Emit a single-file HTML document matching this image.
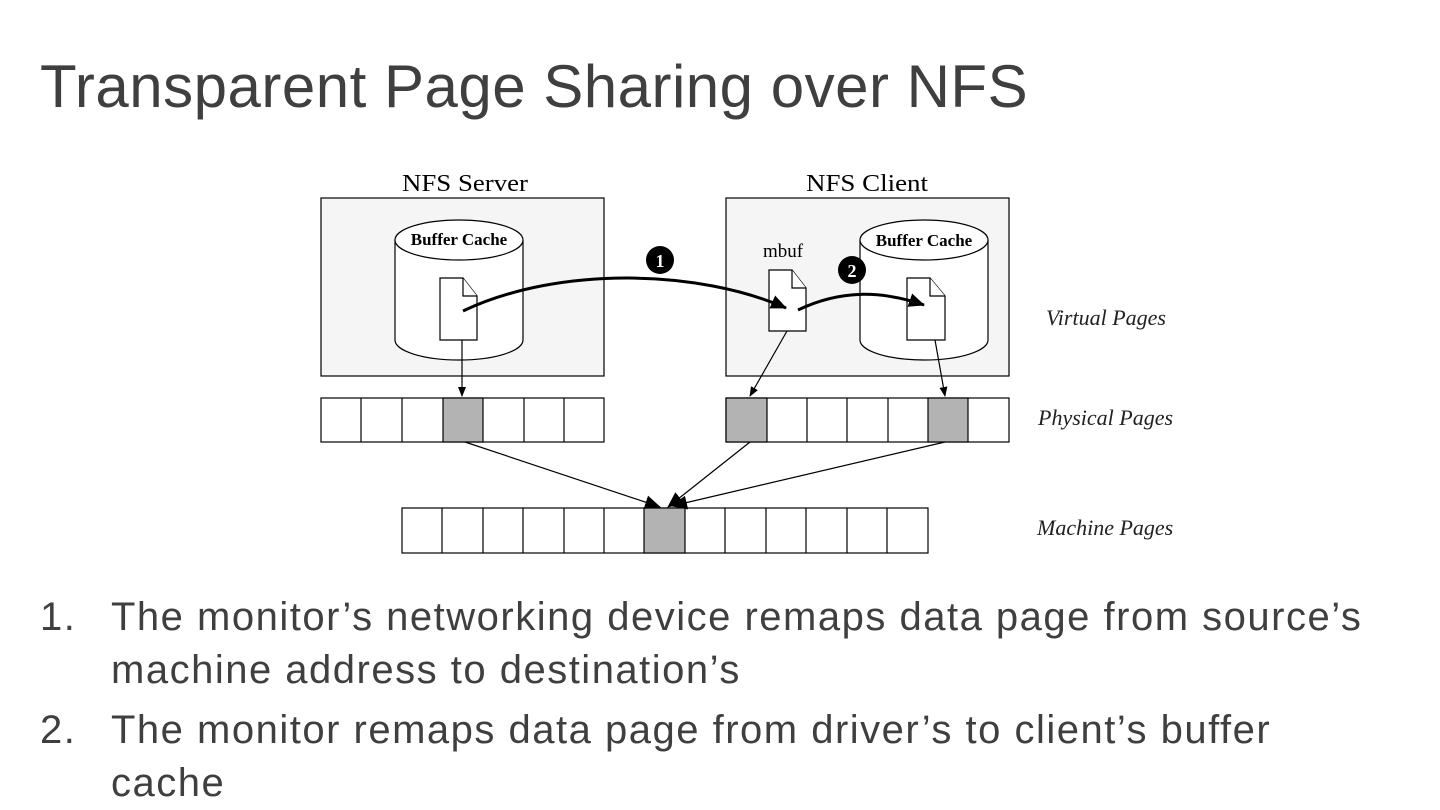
<!DOCTYPE html>
<html><head><meta charset="utf-8"><style>
body{margin:0;width:1440px;height:810px;background:#fff;overflow:hidden;font-family:"Liberation Sans",sans-serif;color:#3f3f3f;position:relative}
.t{position:absolute;left:40px;top:52px;font-size:60px;white-space:nowrap;letter-spacing:0.5px}
.l{position:absolute;font-size:40px;white-space:nowrap;letter-spacing:1.5px}
</style></head><body>
<div class="t">Transparent Page Sharing over NFS</div>
<svg style="position:absolute;left:0;top:0" width="1440" height="810" font-family="Liberation Serif,serif">
<defs><marker id="a" markerWidth="10" markerHeight="10" refX="9" refY="5" orient="auto" markerUnits="userSpaceOnUse"><path d="M0,1 L10,5 L0,9z" fill="#000"/></marker>
<marker id="b" markerWidth="16" markerHeight="14" refX="15" refY="7" orient="auto" markerUnits="userSpaceOnUse"><path d="M0,0 L16,7 L0,14z" fill="#000"/></marker></defs>
<text x="465" y="191" font-size="24" text-anchor="middle" textLength="126" lengthAdjust="spacingAndGlyphs">NFS Server</text>
<text x="867" y="191" font-size="24" text-anchor="middle" textLength="122" lengthAdjust="spacingAndGlyphs">NFS Client</text>
<rect x="321" y="198" width="283" height="178" fill="#f5f5f5" stroke="#000" stroke-width="1.2"/>
<rect x="726" y="198" width="283" height="178" fill="#f5f5f5" stroke="#000" stroke-width="1.2"/>
<g fill="#fff" stroke="#000" stroke-width="1.2">
<path d="M395,240 V340 A64,20 0 0 0 523,340 V240"/><ellipse cx="459" cy="240" rx="64" ry="20"/>
<path d="M860,240 V340 A64,20 0 0 0 988,340 V240"/><ellipse cx="924" cy="240" rx="64" ry="20"/>
<path d="M440,278 H463 L477,296 V340 H440Z"/><path d="M463,278 V296 H477"/>
<path d="M769,270 H792 L806,288 V331 H769Z"/><path d="M792,270 V288 H806"/>
<path d="M907,278 H930 L945,296 V340 H907Z"/><path d="M930,278 V296 H945"/>
</g>
<g font-size="17" font-weight="bold" text-anchor="middle"><text x="459" y="245">Buffer Cache</text><text x="924" y="246">Buffer Cache</text></g>
<text x="783" y="257" font-size="19" text-anchor="middle">mbuf</text>
<path d="M463,311 C560,265 700,270 786,308" fill="none" stroke="#000" stroke-width="3" marker-end="url(#b)"/>
<path d="M798,310 C840,290 880,290 924,305" fill="none" stroke="#000" stroke-width="3" marker-end="url(#b)"/>
<circle cx="660" cy="260" r="14" fill="#000"/><text x="660" y="267" font-size="18" font-weight="bold" fill="#fff" text-anchor="middle">1</text>
<circle cx="852" cy="270" r="14" fill="#000"/><text x="852" y="277" font-size="18" font-weight="bold" fill="#fff" text-anchor="middle">2</text>
<g stroke="#000" stroke-width="1.2" fill="#fff">
<rect x="321" y="398" width="283" height="44"/><rect x="726" y="398" width="283" height="44"/><rect x="402" y="508" width="526" height="45"/>
<rect x="443" y="398" width="40" height="44" fill="#b3b3b3"/>
<rect x="726" y="398" width="41" height="44" fill="#b3b3b3"/><rect x="928" y="398" width="40" height="44" fill="#b3b3b3"/>
<rect x="644" y="508" width="41" height="45" fill="#b3b3b3"/>
<path d="M361,398V442M402,398V442M524,398V442M564,398V442M807,398V442M847,398V442M888,398V442"/>
<path d="M442,508V553M483,508V553M523,508V553M564,508V553M604,508V553M725,508V553M766,508V553M806,508V553M847,508V553M887,508V553"/>
</g>
<g stroke="#000" stroke-width="1.2">
<line x1="462" y1="340" x2="462" y2="396" marker-end="url(#a)"/>
<line x1="787" y1="331" x2="750" y2="396" marker-end="url(#a)"/>
<line x1="935" y1="340" x2="945" y2="396" marker-end="url(#a)"/>
<line x1="465" y1="442" x2="660" y2="507" marker-end="url(#b)"/>
<line x1="750" y1="442" x2="668" y2="507" marker-end="url(#b)"/>
<line x1="945" y1="442" x2="672" y2="506" marker-end="url(#b)"/>
</g>
<g font-size="22" font-style="italic" fill="#222"><text x="1046" y="325">Virtual Pages</text><text x="1038" y="425">Physical Pages</text><text x="1037" y="535">Machine Pages</text></g>
</svg>
<div class="l" style="left:40px;top:595px">1.</div>
<div class="l" style="left:111px;top:595px">The monitor’s networking device remaps data page from source’s</div>
<div class="l" style="left:111px;top:648px">machine address to destination’s</div>
<div class="l" style="left:40px;top:708px">2.</div>
<div class="l" style="left:111px;top:708px">The monitor remaps data page from driver’s to client’s buffer</div>
<div class="l" style="left:111px;top:761px">cache</div>
</body></html>
